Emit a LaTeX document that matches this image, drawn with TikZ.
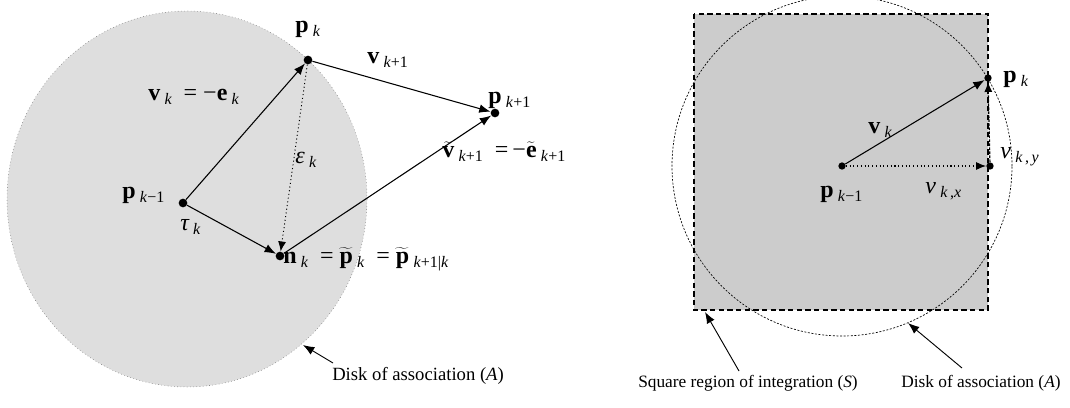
\documentclass[tikz,border=0pt]{standalone}
\usepackage{fontspec}
\setmainfont{Liberation Serif}
\usetikzlibrary{arrows.meta}
\definecolor{diskgray}{HTML}{DEDEDE}
\definecolor{sqgray}{HTML}{CCCCCC}
\newcommand{\bv}[1]{\textbf{#1}}
\newcommand{\sk}[1]{\kern0.18em\raisebox{-0.45ex}{\fontsize{12}{12}\selectfont\itshape #1}}
\newcommand{\tb}[1]{\ensuremath{\widetilde{\mbox{\textbf{#1}}}}}
\tikzset{
  dot/.style={circle,fill=black,inner sep=0pt,minimum size=6.5pt},
  smalldot/.style={circle,fill=black,inner sep=0pt,minimum size=5.5pt},
  arr/.style={-{Latex[length=8.5pt,width=6.5pt]},line width=0.8pt},
  darr/.style={-{Latex[length=7.5pt,width=6pt]},line width=0.8pt,dotted},
  lab/.style={anchor=base west,inner sep=0pt,font=\fontsize{18}{18}\selectfont},
  captext/.style={inner sep=0pt,font=\fontsize{13}{13}\selectfont},
}
\begin{document}
\begin{tikzpicture}[x=0.75pt,y=-0.75pt]
\useasboundingbox (0,0) rectangle (1070,407);
% ---------- left panel ----------
\fill[diskgray] (187,199) ellipse [x radius=135pt,y radius=141pt];
\draw[gray!80!black,dotted,line width=0.4pt] (187,199) ellipse [x radius=135pt,y radius=141pt];
\node[dot] (pkm1) at (183,203) {};
\node[dot] (pk) at (308,60) {};
\node[dot] (pk1) at (495,113) {};
\node[dot] (nk) at (280,256) {};
\draw[arr] (pkm1) -- (pk);
\draw[arr] (pkm1) -- (nk);
\draw[arr] (pk) -- (pk1);
\draw[arr] (nk) -- (pk1);
\draw[darr,line width=0.7pt] (pk) -- (nk);
\node[lab] (lpk) at (295,32) {\bv{p}\sk{k}};
\node[lab] (lvk1) at (367,63) {\bv{v}\sk{k\textup{+1}}};
\node[lab] (lpk1) at (488,103) {\bv{p}\sk{k\textup{+1}}};
\node[lab] (lvt) at (442,157) {\tb{v}\sk{k\textup{+1}}\ \ =\,−\tb{e}\sk{k\textup{+1}}};
\node[lab] (lvk) at (148,100) {\bv{v}\sk{k}\ \ =\ −\bv{e}\sk{k}};
\node[lab] (leps) at (295,163) {\itshape ε\sk{k}};
\node[lab] (lpkm1) at (122,198) {\bv{p}\sk{k\textup{−1}}};
\node[lab] (ltau) at (180,230) {\itshape τ\sk{k}};
\node[lab] (lnk) at (283,263) {\bv{n}\sk{k}\ \ =\ \tb{p}\sk{k}\ \ =\ \tb{p}\sk{k\textup{+1|}k}};
\node[captext,anchor=base west,font=\fontsize{14}{14}\selectfont] (ldisk) at (332,380) {Disk of association (\textit{A})};
\coordinate (ldbase) at (333,363);
\coordinate (ldtip) at (303,345);
\draw[arr,line width=0.7pt] (ldbase) -- (ldtip);
% ---------- right panel ----------
\fill[sqgray] (694,14) rectangle (988,310);
\draw[dash pattern=on 4pt off 2.5pt,line width=0.8pt] (694,14) rectangle (988,310);
\draw[dash pattern=on 1.5pt off 1.2pt,line width=0.5pt] (842,166) circle [radius=127.5pt];
\node[smalldot] (rpkm1) at (842,166) {};
\node[smalldot] (rpk) at (988,78) {};
\node[smalldot] (rfoot) at (990,166) {};
\draw[arr] (rpkm1) -- (rpk);
\draw[darr] (rpkm1) -- (rfoot);
\draw[-{Latex[length=7.5pt,width=6pt]},line width=0.9pt,dash pattern=on 2pt off 1pt] (rfoot) -- (rpk);
\node[lab] (rlpk) at (1003,82) {\bv{p}\sk{k}};
\node[lab] (rlvk) at (868,133) {\bv{v}\sk{k}};
\node[lab] (rlvky) at (1000,158) {\itshape v\sk{k\,\textup{,}\,y}};
\node[lab] (rlvkx) at (925,193) {\itshape v\sk{k\,\textup{,}x}};
\node[lab] (rlpkm1) at (820,197) {\bv{p}\sk{k\textup{−1}}};
\node[captext,anchor=base east] (rsq) at (858,387) {Square region of integration (\textit{S})};
\node[captext,anchor=base west] (rdisk) at (901,387) {Disk of association (\textit{A})};
\coordinate (rsbase) at (739,371);
\coordinate (rstip) at (705,312);
\coordinate (rdbase) at (962,368);
\coordinate (rdtip) at (908,323);
\draw[arr,line width=0.7pt] (rsbase) -- (rstip);
\draw[arr,line width=0.7pt] (rdbase) -- (rdtip);
\end{tikzpicture}
\end{document}
